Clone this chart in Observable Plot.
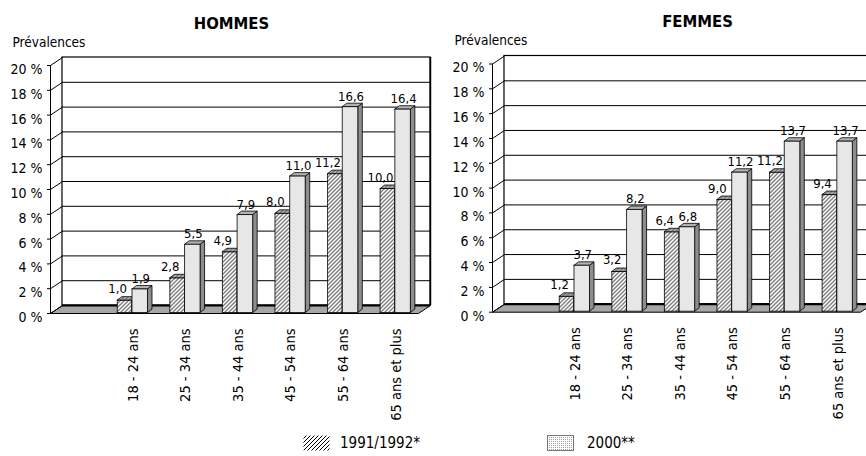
<!DOCTYPE html>
<html><head><meta charset="utf-8">
<script src="https://cdn.jsdelivr.net/npm/d3@7"></script>
<script src="https://cdn.jsdelivr.net/npm/@observablehq/plot@0.6"></script>
<style>
html,body{margin:0;padding:0;background:#fff;overflow:hidden;}
#wrap{position:relative;width:866px;height:456px;overflow:hidden;font-family:"DejaVu Sans Condensed","Liberation Sans Narrow","Arial Narrow",sans-serif;color:#000;}
.panel{position:absolute;top:0;}
.sw{position:absolute;}
.lt{position:absolute;font-size:15px;line-height:16px;white-space:nowrap;}
</style></head><body>
<svg width="0" height="0" style="position:absolute">
<defs>
<pattern id="hatch" patternUnits="userSpaceOnUse" width="4" height="4">
<rect width="4" height="4" fill="#fff"/>
<path d="M-1,1 l2,-2 M0,4 l4,-4 M3,5 l2,-2" stroke="#000" stroke-width="1"/>
</pattern>
<pattern id="hatchTop" patternUnits="userSpaceOnUse" width="4" height="4">
<rect width="4" height="4" fill="#b0b0b0"/>
<path d="M-1,1 l2,-2 M0,4 l4,-4 M3,5 l2,-2" stroke="#333" stroke-width="0.9"/>
</pattern>
<pattern id="dots" patternUnits="userSpaceOnUse" width="2" height="2">
<rect width="2" height="2" fill="#fff"/>
<rect width="1" height="1" fill="#a0a0a0"/>
</pattern>
<pattern id="dotsTop" patternUnits="userSpaceOnUse" width="2" height="2">
<rect width="2" height="2" fill="#c4c4c4"/>
<rect width="1" height="1" fill="#7a7a7a"/>
</pattern>
<pattern id="dotsSide" patternUnits="userSpaceOnUse" width="2" height="2">
<rect width="2" height="2" fill="#a0a0a0"/>
<rect width="1" height="1" fill="#555"/>
</pattern>
</defs>
</svg>
<div id="wrap"></div>
<script>
// ---- data ----
const ages = ["18 - 24 ans", "25 - 34 ans", "35 - 44 ans", "45 - 54 ans", "55 - 64 ans", "65 ans et plus"];
const series = ["1991/1992*", "2000**"];
const hommes1991 = [1.0, 2.8, 4.9, 8.0, 11.2, 10.0];
const hommes2000 = [1.9, 5.5, 7.9, 11.0, 16.6, 16.4];
const femmes1991 = [1.2, 3.2, 6.4, 9.0, 11.2, 9.4];
const femmes2000 = [3.7, 8.2, 6.8, 11.2, 13.7, 13.7];
const yTicks = [0, 2, 4, 6, 8, 10, 12, 14, 16, 18, 20];
const panelTitles = ["HOMMES", "FEMMES"];
const yTitle = "Prévalences";

// ---- style (pseudo-3D geometry in scale units) ----
const FONT = '"DejaVu Sans Condensed","Liberation Sans Narrow","Arial Narrow",sans-serif';
const DX = 0.228, DY = 0.645;   // depth of back wall
const BDX = 0.086, BDY = 0.28;  // depth of bars
const LIFT = 0.08;
const BAR = [[0.27, 0.55], [0.55, 0.845]];
const fills = [
  {front: "url(#hatch)", top: "url(#hatchTop)", side: "url(#hatchTop)"},
  {front: "url(#dots)", top: "url(#dotsTop)", side: "url(#dotsSide)"}
];
const fmt = v => v.toFixed(1).replace(".", ",");
const poly = (id, pts) => [...pts, pts[0]].map(([x, y]) => ({id, x, y}));

function panel(title, v1, v2, o) {
  const nSlots = ages.length + 1;
  const yMax = d3.max(yTicks);
  const rows = [];
  ages.forEach((a, i) => {
    rows.push({age: a, s: 0, v: v1[i], slot: i + 1});
    rows.push({age: a, s: 1, v: v2[i], slot: i + 1});
  });
  const faces = [0, 1].map(() => ({front: [], top: [], side: []}));
  rows.forEach((r, k) => {
    const x1 = r.slot + BAR[r.s][0], x2 = r.slot + BAR[r.s][1];
    const y0 = LIFT, y1 = r.v + LIFT;
    faces[r.s].front.push(...poly(k, [[x1, y0], [x2, y0], [x2, y1], [x1, y1]]));
    faces[r.s].top.push(...poly(k, [[x1, y1], [x2, y1], [x2 + BDX, y1 + BDY], [x1 + BDX, y1 + BDY]]));
    faces[r.s].side.push(...poly(k, [[x2, y0], [x2 + BDX, y0 + BDY], [x2 + BDX, y1 + BDY], [x2, y1]]));
  });
  const floor = poly("f", [[0, 0], [nSlots, 0], [nSlots + DX, DY], [DX, DY]]);
  const faceMarks = [];
  for (const s of [0, 1]) {
    for (const f of (s === 0 ? ["front", "side", "top"] : ["side", "top", "front"])) {
      faceMarks.push(Plot.line(faces[s][f], {x: "x", y: "y", z: "id", fill: fills[s][f], stroke: "#000", strokeWidth: 0.8, curve: "linear"}));
    }
  }
  return Plot.plot({
    width: 442, height: 420,
    marginLeft: 50, marginRight: 24, marginTop: o.top, marginBottom: 420 - o.bottom,
    x: {domain: [0, nSlots], axis: null},
    y: {domain: [0, yMax], axis: null},
    style: {fontFamily: FONT, fontSize: "14px", color: "#000", background: "transparent", overflow: "visible"},
    marks: [
      // back wall
      Plot.rect([0], {x1: DX, x2: nSlots + DX, y1: DY, y2: yMax + DY, fill: "#fff", stroke: "#000", strokeWidth: 1.2}),
      Plot.ruleY(yTicks.slice(1, -1), {y: d => d + DY, x1: DX, x2: nSlots + DX, stroke: "#000", strokeWidth: 1}),
      // floor
      Plot.line(floor, {x: "x", y: "y", z: "id", fill: "#a6a6a6", stroke: "#000", strokeWidth: 1}),
      Plot.ruleY([DY], {x1: DX, x2: nSlots + DX, stroke: "#000", strokeWidth: 2}),
      Plot.ruleX([nSlots + DX], {y1: DY, y2: yMax + DY, stroke: "#000", strokeWidth: 1.5}),
      // left side connectors and front axis
      Plot.link(yTicks, {x1: 0, y1: d => d, x2: DX, y2: d => d + DY, stroke: "#000", strokeWidth: 1}),
      Plot.ruleX([0], {y1: 0, y2: yMax, stroke: "#000", strokeWidth: 1}),
      Plot.axisY({ticks: yTicks, tickSize: 3, tickFormat: () => "", label: null, stroke: "#000"}),
      Plot.axisY({ticks: yTicks, tickSize: 0, tickPadding: 8, dy: 4, tickFormat: d => `${d} %`, label: null, fontSize: 14, fill: "#000"}),
      // bars
      ...faceMarks,
      // value labels
      Plot.text(rows.filter(r => r.s === 0), {x: r => r.slot + (BAR[0][0] + BAR[0][1]) / 2, y: r => r.v + LIFT, text: r => fmt(r.v), lineAnchor: "bottom", dx: -7, dy: -7, fontSize: 13, fill: "#000"}),
      Plot.text(rows.filter(r => r.s === 1), {x: r => r.slot + (BAR[1][0] + BAR[1][1]) / 2, y: r => r.v + LIFT, text: r => fmt(r.v), lineAnchor: "bottom", dx: 1, dy: -6, fontSize: 13, fill: "#000"}),
      // category labels
      Plot.text(ages, {x: (d, i) => i + 1 + 0.57, y: 0, text: d => d, rotate: -90, textAnchor: "end", dy: 15, fontSize: 14.5, fill: "#000"}),
      // titles
      Plot.text([title], {frameAnchor: "top", text: d => d, lineAnchor: "middle", dx: o.titleDx, dy: -42, fontSize: 16.5, fontWeight: "bold", fill: "#000"}),
      Plot.text([yTitle], {frameAnchor: "top-left", text: d => d, lineAnchor: "middle", textAnchor: "start", dx: -38, dy: -23, fontSize: 13.5, fill: "#000"})
    ]
  });
}

const wrap = document.getElementById("wrap");
const p1 = panel(panelTitles[0], hommes1991, hommes2000, {top: 65, bottom: 313, titleDx: -3});
const p2 = panel(panelTitles[1], femmes1991, femmes2000, {top: 63.5, bottom: 311.7, titleDx: 21});
p1.classList.add("panel"); p1.style.left = "0px";
p2.classList.add("panel"); p2.style.left = "442px";
wrap.appendChild(p1); wrap.appendChild(p2);

// legend
const legendFills = ["url(#hatch)", "url(#dots)"];
const legendPos = [{sw: 303, tx: 340}, {sw: 547, tx: 587}];
series.forEach((s, i) => {
  const ns = "http://www.w3.org/2000/svg";
  const sv = document.createElementNS(ns, "svg");
  sv.setAttribute("width", 27); sv.setAttribute("height", 16);
  sv.setAttribute("class", "sw");
  sv.style.left = legendPos[i].sw + "px"; sv.style.top = "435px";
  const r = document.createElementNS(ns, "rect");
  r.setAttribute("x", 0.5); r.setAttribute("y", 0.5); r.setAttribute("width", 26); r.setAttribute("height", 15);
  r.setAttribute("fill", legendFills[i]);
  r.setAttribute("stroke", i === 0 ? "none" : "#777");
  sv.appendChild(r);
  wrap.appendChild(sv);
  const t = document.createElement("div");
  t.className = "lt"; t.textContent = s;
  t.style.left = legendPos[i].tx + "px"; t.style.top = "435px";
  wrap.appendChild(t);
});
</script>
</body></html>
